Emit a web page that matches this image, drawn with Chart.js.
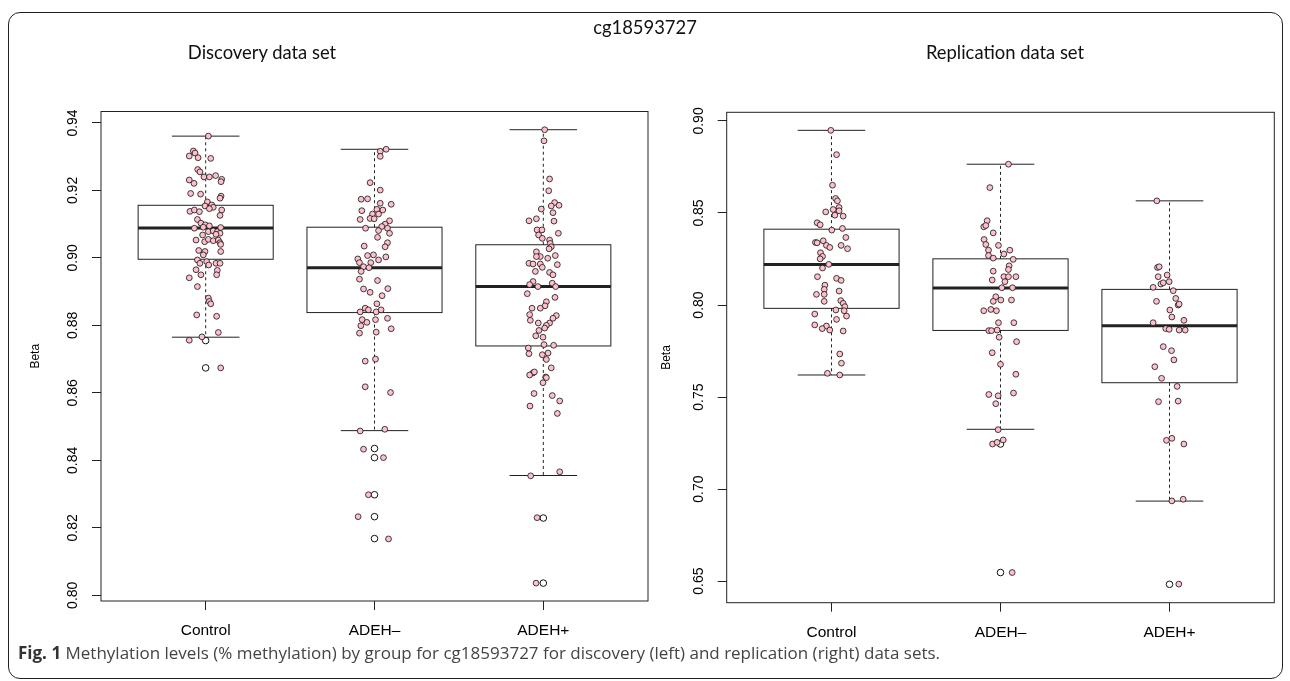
<!DOCTYPE html>
<html>
<head>
<meta charset="utf-8">
<script src="https://cdn.jsdelivr.net/npm/chart.js@4.4.1/dist/chart.umd.min.js"></script>
<style>
  body { margin: 0; background: #fff; width: 1290px; height: 681px; overflow: hidden; position: relative; }
  #frame { position: absolute; left: 8px; top: 12px; width: 1275px; height: 667px; box-sizing: border-box;
           border: 1.5px solid #222; border-radius: 12px; }
  canvas { position: absolute; top: 0; }
  #disc { left: 0; }
  #repl { left: 640px; }
  .ttl { position: absolute; font-family: Lato, "Open Sans", sans-serif; font-size: 18.4px; color: #111;
         white-space: nowrap; transform: translateX(-50%); }
  #caption { position: absolute; left: 18px; top: 641px; font-family: "Open Sans", sans-serif; font-size: 17px;
             color: #444; white-space: nowrap; }
  #caption b { color: #333; }
</style>
</head>
<body>
<div id="frame"></div>
<canvas id="disc" width="660" height="681"></canvas>
<canvas id="repl" width="650" height="681"></canvas>
<div class="ttl" style="left:645px;top:16px">cg18593727</div>
<div class="ttl" style="left:262px;top:41px">Discovery data set</div>
<div class="ttl" style="left:1005px;top:41px">Replication data set</div>
<div id="caption"><b>Fig. 1</b> Methylation levels (% methylation) by group for cg18593727 for discovery (left) and replication (right) data sets.</div>
<script>
const categories = ['Control', 'ADEH–', 'ADEH+'];

// Discovery data set
const discTicks = [0.80, 0.82, 0.84, 0.86, 0.88, 0.90, 0.92, 0.94];
const discLow  = [0.8765, 0.8488, 0.8355];
const discQ1   = [0.8996, 0.8838, 0.8739];
const discMed  = [0.9089, 0.8971, 0.8915];
const discQ3   = [0.9156, 0.9091, 0.9039];
const discHigh = [0.9361, 0.9322, 0.9380];
const discOutControl = [0.8755, 0.8674];
const discOutMinus = [0.8435, 0.8408, 0.8298, 0.8233, 0.8168];
const discOutPlus = [0.8229, 0.8036];

const discControl = [
  0.9361,0.9317,0.9311,0.9302,0.9297,0.9295,0.9262,0.9255,0.9240,0.9240,
  0.9244,0.9233,0.9226,0.9231,0.9221,0.9191,0.9189,0.9183,0.9177,0.9166,
  0.9154,0.9157,0.9150,0.9146,0.9138,0.9142,0.9137,0.9142,0.9126,0.9114,
  0.9103,0.9098,0.9095,0.9088,0.9091,0.9078,0.9080,0.9078,0.9090,0.9073,
  0.9070,0.9068,0.9053,0.9048,0.9055,0.9051,0.9053,0.9045,0.9040,0.9022,
  0.9019,0.9009,0.9019,0.8994,0.8984,0.8989,0.8979,0.8984,0.8984,0.8965,
  0.8950,0.8963,0.8950,0.8941,0.8915,0.8881,0.8871,0.8864,0.8831,0.8827,
  0.8779,0.8766,0.8756,0.8674];
const discControlJit = [
  0.016,-0.073,-0.063,-0.097,-0.045,0.030,-0.047,-0.034,-0.010,0.022,
  0.059,0.095,0.091,-0.097,-0.069,-0.089,-0.030,0.091,0.085,0.010,
  -0.004,0.036,0.045,0.022,-0.093,-0.067,-0.037,0.095,0.085,-0.049,
  -0.028,-0.002,0.022,-0.067,-0.014,0.016,0.045,0.069,0.089,0.085,
  0.061,-0.018,-0.057,-0.006,0.016,0.045,0.075,0.085,0.089,-0.041,
  -0.004,-0.014,0.089,-0.049,-0.034,0.006,0.018,0.061,0.085,-0.057,
  -0.028,0.069,0.065,-0.097,-0.049,0.016,0.022,0.030,-0.053,0.065,
  0.075,-0.022,-0.097,0.089];

const discMinus = [
  0.9322,0.9316,0.9301,0.9223,0.9201,0.9174,0.9175,0.9140,0.9162,0.9159,
  0.9144,0.9142,0.9130,0.9130,0.9114,0.9117,0.9116,0.9110,0.9100,0.9093,
  0.9088,0.9088,0.9081,0.9073,0.9061,0.9045,0.9033,0.9035,0.9007,0.9009,
  0.8997,0.8994,0.9003,0.8986,0.8986,0.8974,0.8960,0.8971,0.8937,0.8933,
  0.8908,0.8898,0.8909,0.8888,0.8864,0.8851,0.8846,0.8840,0.8840,0.8846,
  0.8817,0.8809,0.8799,0.8817,0.8821,0.8790,0.8777,0.8780,0.8694,0.8700,
  0.8618,0.8601,0.8487,0.8492,0.8433,0.8408,0.8298,0.8233,0.8167];
const discMinusJit = [
  0.069,0.034,0.034,-0.026,0.034,-0.079,-0.041,-0.075,0.034,0.099,
  0.014,0.049,-0.012,0.024,-0.085,-0.026,-0.002,0.089,0.063,0.043,
  -0.053,0.077,0.024,0.089,0.018,0.077,0.063,-0.061,-0.041,-0.006,
  -0.099,0.024,0.067,-0.089,-0.022,-0.065,-0.079,-0.033,-0.089,0.018,
  -0.065,-0.026,0.079,0.045,0.014,-0.055,-0.036,-0.085,0.010,0.039,
  -0.073,-0.045,-0.081,0.006,0.077,0.099,-0.089,0.010,-0.055,0.006,
  -0.055,0.095,-0.085,0.061,-0.065,0.053,-0.036,-0.097,0.083];

const discPlus = [
  0.9380,0.9347,0.9234,0.9199,0.9164,0.9156,0.9154,0.9145,0.9134,0.9110,
  0.9116,0.9109,0.9083,0.9083,0.9068,0.9073,0.9058,0.9053,0.9043,0.9033,
  0.9027,0.9018,0.9004,0.9004,0.8999,0.9007,0.8984,0.8982,0.8982,0.8980,
  0.8972,0.8960,0.8957,0.8950,0.8930,0.8921,0.8915,0.8925,0.8915,0.8894,
  0.8883,0.8870,0.8858,0.8851,0.8851,0.8832,0.8829,0.8821,0.8815,0.8807,
  0.8807,0.8800,0.8792,0.8785,0.8769,0.8765,0.8743,0.8741,0.8733,0.8716,
  0.8718,0.8713,0.8699,0.8674,0.8659,0.8653,0.8647,0.8662,0.8645,0.8630,
  0.8598,0.8592,0.8576,0.8561,0.8539,0.8354,0.8366,0.8230,0.8036];
const discPlusJit = [
  0.008,0.004,0.037,0.032,0.067,0.093,0.047,-0.012,0.057,-0.085,
  -0.041,0.063,-0.037,-0.008,-0.028,0.089,-0.006,0.037,0.041,0.047,
  0.034,-0.041,-0.018,-0.041,0.026,0.071,-0.085,-0.061,-0.018,0.083,
  -0.006,-0.047,0.037,0.057,-0.061,-0.081,-0.032,0.053,0.073,-0.095,
  0.069,0.018,0.010,-0.067,-0.018,-0.081,0.077,0.057,-0.077,-0.030,
  0.037,0.018,0.008,-0.026,-0.045,-0.002,0.004,0.061,-0.089,-0.085,
  0.028,-0.006,0.018,0.047,-0.061,-0.081,0.014,-0.053,0.018,-0.002,
  -0.055,0.053,0.097,-0.079,0.083,-0.075,0.097,-0.037,-0.043];

// Replication data set
const replTicks = [0.65, 0.70, 0.75, 0.80, 0.85, 0.90];
const replLow  = [0.7620, 0.7325, 0.6935];
const replQ1   = [0.7982, 0.7862, 0.7578];
const replMed  = [0.8220, 0.8092, 0.7887];
const replQ3   = [0.8412, 0.8251, 0.8085];
const replHigh = [0.8949, 0.8765, 0.8566];
const replOutControl = [];
const replOutMinus = [0.7245, 0.6547];
const replOutPlus = [0.6483];

const replControl = [
  0.8949,0.8817,0.8651,0.8579,0.8566,0.8506,0.8519,0.8530,0.8512,0.8488,
  0.8483,0.8447,0.8436,0.8407,0.8416,0.8367,0.8340,0.8349,0.8338,0.8324,
  0.8313,0.8324,0.8306,0.8284,0.8264,0.8251,0.8221,0.8201,0.8154,0.8145,
  0.8134,0.8108,0.8085,0.8076,0.8058,0.8058,0.8020,0.8024,0.8009,0.7991,
  0.7973,0.7969,0.7940,0.7951,0.7922,0.7892,0.7886,0.7872,0.7864,0.7859,
  0.7734,0.7684,0.7629,0.7620];
const replControlJit = [
  -0.004,0.030,0.006,0.024,0.035,-0.034,0.010,0.045,0.045,0.020,
  0.069,-0.085,-0.067,0.002,0.065,0.085,-0.095,-0.049,-0.085,-0.030,
  -0.010,0.057,0.095,-0.065,-0.053,-0.067,-0.016,-0.053,-0.083,0.030,
  0.057,-0.039,-0.043,0.045,-0.089,-0.043,-0.043,0.055,0.069,0.079,
  0.026,0.075,0.089,-0.099,0.030,-0.099,-0.030,-0.055,-0.010,0.069,
  0.049,0.059,-0.024,0.049];

const replMinus = [
  0.8765,0.8638,0.8458,0.8425,0.8432,0.8392,0.8356,0.8329,0.8298,0.8324,
  0.8298,0.8277,0.8269,0.8255,0.8248,0.8213,0.8193,0.8184,0.8136,0.8154,
  0.8154,0.8154,0.8127,0.8094,0.8094,0.8045,0.8020,0.8027,0.8027,0.7969,
  0.7976,0.7969,0.7904,0.7904,0.7861,0.7861,0.7864,0.7825,0.7801,0.7741,
  0.7678,0.7624,0.7514,0.7507,0.7522,0.7464,0.7323,0.7245,0.7254,0.7267,
  0.6547];
const replMinusJit = [
  0.047,-0.063,-0.079,-0.099,-0.087,-0.043,-0.097,-0.087,-0.071,-0.012,
  0.055,0.020,-0.071,-0.043,0.075,0.051,0.047,-0.043,-0.049,0.020,
  0.047,0.091,0.026,0.008,0.071,-0.028,-0.043,0.002,0.065,-0.099,
  -0.057,-0.024,-0.012,0.079,-0.069,-0.053,-0.020,-0.008,0.095,-0.049,
  0.000,0.091,-0.069,-0.014,0.077,-0.028,-0.014,-0.047,-0.020,0.016,
  0.069];

const replPlus = [
  0.8566,0.8204,0.8208,0.8154,0.8163,0.8096,0.8114,0.8121,0.8127,0.8078,
  0.8020,0.8036,0.8000,0.8005,0.7973,0.7935,0.7917,0.7904,0.7872,0.7868,
  0.7864,0.7864,0.7774,0.7752,0.7702,0.7665,0.7602,0.7558,0.7475,0.7478,
  0.7265,0.7276,0.7245,0.6936,0.6945,0.6484];
const replPlusJit = [
  -0.075,-0.071,-0.061,-0.067,-0.014,-0.097,-0.051,-0.037,-0.002,0.022,
  -0.077,0.037,0.051,0.057,0.002,0.014,0.085,-0.097,-0.022,-0.002,
  0.057,0.093,-0.037,0.012,0.026,-0.087,-0.047,0.045,-0.065,0.051,
  -0.018,0.014,0.085,0.014,0.081,0.055];

const axisFont = 'Liberation Sans, Arial, sans-serif';

// boxes, whiskers and medians, drawn under the points
function boxPlugin(low, q1, med, q3, high) {
  return {
    id: 'boxes',
    beforeDatasetsDraw(chart) {
      const ctx = chart.ctx, a = chart.chartArea;
      const x = chart.scales.x, y = chart.scales.y;
      ctx.save();
      ctx.strokeStyle = '#222';
      ctx.lineWidth = 1;
      ctx.strokeRect(a.left, a.top, a.right - a.left, a.bottom - a.top);
      med.forEach((m, i) => {
        const c = i + 1;
        const xc = x.getPixelForValue(c);
        const bl = x.getPixelForValue(c - 0.4), br = x.getPixelForValue(c + 0.4);
        const wl = x.getPixelForValue(c - 0.2), wr = x.getPixelForValue(c + 0.2);
        const yLow = y.getPixelForValue(low[i]), yHigh = y.getPixelForValue(high[i]);
        const yQ1 = y.getPixelForValue(q1[i]), yQ3 = y.getPixelForValue(q3[i]);
        const yMed = y.getPixelForValue(m);
        ctx.lineWidth = 1;
        ctx.setLineDash([3, 3]);
        ctx.beginPath();
        ctx.moveTo(xc, yQ3); ctx.lineTo(xc, yHigh);
        ctx.moveTo(xc, yQ1); ctx.lineTo(xc, yLow);
        ctx.stroke();
        ctx.setLineDash([]);
        ctx.beginPath();
        ctx.moveTo(wl, yHigh); ctx.lineTo(wr, yHigh);
        ctx.moveTo(wl, yLow); ctx.lineTo(wr, yLow);
        ctx.stroke();
        ctx.strokeRect(bl, yQ3, br - bl, yQ1 - yQ3);
        ctx.lineWidth = 3;
        ctx.beginPath();
        ctx.moveTo(bl, yMed); ctx.lineTo(br, yMed);
        ctx.stroke();
      });
      ctx.restore();
    }
  };
}

function makeChart(id, o) {
  const pts = [], outs = [];
  o.vals.forEach((vs, i) => vs.forEach((v, j) => pts.push({x: i + 1 + o.jit[i][j], y: v})));
  o.outl.forEach((vs, i) => vs.forEach(v => outs.push({x: i + 1, y: v})));
  new Chart(id, {
    type: 'scatter',
    data: {
      datasets: [{
        label: 'points',
        data: pts,
        pointRadius: 2.9,
        backgroundColor: '#FFC0CB',
        borderColor: '#111',
        borderWidth: 0.8,
      }, {
        label: 'outliers',
        data: outs,
        pointRadius: 3.3,
        backgroundColor: 'rgba(255,255,255,0)',
        borderColor: '#111',
        borderWidth: 1,
      }]
    },
    options: {
      responsive: false,
      animation: false,
      events: [],
      layout: { padding: o.pad },
      plugins: { legend: { display: false }, tooltip: { enabled: false } },
      scales: {
        x: {
          type: 'linear', min: 0.38, max: 3.62,
          afterBuildTicks: s => { s.ticks = categories.map((c, i) => ({value: i + 1})); },
          afterFit: s => { s.height = 60; },
          border: { display: false },
          grid: { drawOnChartArea: false, drawTicks: true, tickLength: 9, color: '#222' },
          ticks: {
            autoSkip: false, maxRotation: 0, padding: 11.5, color: '#000',
            font: { family: axisFont, size: 15.5 },
            callback: v => categories[Math.round(v) - 1]
          }
        },
        y: {
          type: 'linear', min: o.min, max: o.max, bounds: 'data',
          afterBuildTicks: s => { s.ticks = o.ticks.map(v => ({value: v})); },
          afterFit: s => { s.width = 80; },
          border: { display: false },
          grid: { drawOnChartArea: false, drawTicks: true, tickLength: 9, color: '#222' },
          ticks: {
            autoSkip: false, minRotation: 90, maxRotation: 90, crossAlign: 'center', padding: 5,
            color: '#000', font: { family: axisFont, size: 14 },
            callback: v => v.toFixed(2)
          },
          title: {
            display: true, text: 'Beta', color: '#000',
            font: { family: axisFont, size: 12 },
            padding: { top: o.titlePad, bottom: 0 }
          }
        }
      }
    },
    plugins: [boxPlugin(o.low, o.q1, o.med, o.q3, o.high)]
  });
}

makeChart('disc', {
  vals: [discControl, discMinus, discPlus],
  jit: [discControlJit, discMinusJit, discPlusJit],
  outl: [discOutControl, discOutMinus, discOutPlus],
  low: discLow, q1: discQ1, med: discMed, q3: discQ3, high: discHigh,
  ticks: discTicks, min: 0.7983, max: 0.9434,
  pad: { left: 21, right: 12, top: 111.5, bottom: 20 },
  titlePad: 7.3
});

makeChart('repl', {
  vals: [replControl, replMinus, replPlus],
  jit: [replControlJit, replMinusJit, replPlusJit],
  outl: [replOutControl, replOutMinus, replOutPlus],
  low: replLow, q1: replQ1, med: replMed, q3: replQ3, high: replHigh,
  ticks: replTicks, min: 0.6383, max: 0.9047,
  pad: { left: 6.7, right: 15.7, top: 112.3, bottom: 18.3 },
  titlePad: 12.8
});
</script>
</body>
</html>
